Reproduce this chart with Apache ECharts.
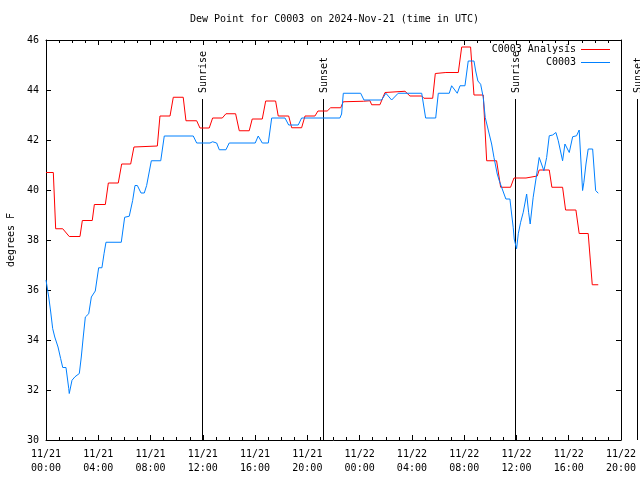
<!DOCTYPE html>
<html>
<head>
<meta charset="utf-8">
<script src="https://cdn.jsdelivr.net/npm/echarts@6/dist/echarts.min.js"></script>
<style>html,body{margin:0;padding:0;background:#fff}#chart{width:640px;height:480px}</style>
</head>
<body>
<div id="chart"></div>
<script>
// Time axis: hours since 2024-11-21 00:00 UTC
var xTickLabels = ['11/21\n00:00','11/21\n04:00','11/21\n08:00','11/21\n12:00','11/21\n16:00','11/21\n20:00',
                   '11/22\n00:00','11/22\n04:00','11/22\n08:00','11/22\n12:00','11/22\n16:00','11/22\n20:00'];
var yTickValues = [30,32,34,36,38,40,42,44,46];

// C0003 Analysis (red)
var analysisHours = [0,0.56,0.74,1.28,1.78,2.60,2.78,3.54,3.70,4.54,4.77,5.53,5.79,6.48,6.73,8.52,8.72,9.49,9.74,10.50,
  10.71,11.53,11.78,12.49,12.75,13.49,13.77,14.51,14.79,15.55,15.78,16.55,16.81,17.57,17.77,18.57,18.80,19.56,19.82,20.58,
  20.81,21.52,21.78,22.55,22.75,24.28,24.79,24.92,25.55,25.94,27.47,27.85,28.75,28.92,29.59,29.79,30.60,31.55,31.81,32.49,
  32.75,33.46,33.72,34.48,34.79,35.55,35.81,36.73,36.88,37.59,37.74,38.51,38.71,39.53,39.76,40.55,40.80,41.49,41.80,42.26];
var analysisValues = [40.7,40.7,38.45,38.45,38.14,38.14,38.78,38.78,39.42,39.42,40.28,40.28,41.04,41.04,41.72,41.76,42.96,42.96,43.71,43.71,
  42.77,42.77,42.48,42.48,42.88,42.88,43.05,43.05,42.37,42.37,42.84,42.84,43.56,43.56,42.96,42.96,42.49,42.49,42.96,42.96,
  43.16,43.16,43.29,43.29,43.53,43.55,43.57,43.41,43.41,43.9,43.95,43.76,43.76,43.67,43.67,44.66,44.7,44.7,45.72,45.72,
  43.8,43.8,41.17,41.17,40.11,40.11,40.48,40.48,40.56,40.56,40.8,40.8,40.11,40.11,39.2,39.2,38.26,38.26,36.21,36.21];

// C0003 observations (blue)
var obsHours = [0,0.21,0.36,0.51,0.67,0.92,1.12,1.28,1.53,1.74,1.78,1.99,2.22,2.55,2.70,2.85,3.01,3.27,3.47,3.77,
  4.03,4.28,4.44,4.59,5.76,6.02,6.37,6.63,6.81,6.99,7.27,7.52,7.70,8.06,8.78,9.05,11.27,11.53,12.55,12.75,
  13.06,13.26,13.77,14.02,16.01,16.24,16.55,17.01,17.27,18.29,18.57,19.30,19.56,22.49,22.62,22.75,24.08,24.33,25.68,26.01,
  26.45,26.95,28.75,29.05,29.82,30.02,30.86,31.04,31.47,31.68,32.06,32.31,32.75,32.88,33.05,33.26,33.46,33.61,34.10,34.28,
  34.53,34.68,34.79,34.94,35.19,35.50,35.63,35.75,35.83,36.01,36.14,36.32,36.52,36.78,36.93,37.05,37.28,37.59,37.74,38.10,
  38.31,38.51,38.77,39.02,39.20,39.53,39.71,40.04,40.30,40.60,40.80,41.06,41.16,41.32,41.49,41.83,42.06,42.26];
var obsValues = [36.4,35.72,35.12,34.46,34.12,33.72,33.26,32.9,32.9,32.06,31.86,32.39,32.53,32.66,33.32,34.12,34.92,35.05,35.72,35.96,
  36.89,36.89,37.45,37.91,37.91,38.91,38.95,39.58,40.18,40.18,39.88,39.88,40.18,41.17,41.17,42.16,42.16,41.88,41.88,41.93,
  41.88,41.61,41.61,41.88,41.88,42.16,41.88,41.88,42.88,42.88,42.6,42.6,42.88,42.88,43.04,43.87,43.87,43.6,43.6,43.87,
  43.6,43.87,43.87,42.88,42.88,43.87,43.87,44.17,43.87,44.17,44.17,45.16,45.16,44.76,44.36,44.23,43.7,42.9,41.84,41.3,
  40.64,40.38,40.44,40.0,39.64,39.64,39.04,38.51,38.04,37.65,38.25,38.71,39.11,39.84,39.11,38.64,39.71,40.77,41.3,40.77,
  41.3,42.17,42.2,42.3,41.97,41.17,41.84,41.5,42.13,42.17,42.4,39.98,40.31,41.04,41.64,41.64,39.98,39.87];

// Sunrise / sunset markers
var sunHours = [11.90, 21.19, 35.88, 45.22];
var sunLabels = ['Sunrise', 'Sunset', 'Sunrise', 'Sunset'];
var sunLineTop = 43.64;

var FONT = '"DejaVu Sans Mono", monospace';

function pairs(xs, ys) { return xs.map(function (x, i) { return [x, ys[i]]; }); }

var chart = echarts.init(document.getElementById('chart'), null, { renderer: 'canvas' });

var xCommon = {
  type: 'value', min: 0, max: 44, interval: 4,
  axisLine: { show: true, onZero: false, lineStyle: { color: '#000', width: 1 } },
  axisTick: { show: true, inside: true, length: 5, lineStyle: { color: '#000' } },
  minorTick: { show: true, splitNumber: 4, length: 3, lineStyle: { color: '#000' } },
  splitLine: { show: false }
};
var yCommon = {
  type: 'value', min: 30, max: 46, interval: 2,
  axisLine: { show: true, onZero: false, lineStyle: { color: '#000', width: 1 } },
  axisTick: { show: true, inside: true, length: 5, lineStyle: { color: '#000' } },
  splitLine: { show: false }
};

chart.setOption({
  animation: false,
  backgroundColor: '#fff',
  title: {
    text: 'Dew Point for C0003 on 2024-Nov-21 (time in UTC)',
    left: 190, top: 14, padding: 0,
    textStyle: { fontFamily: FONT, fontSize: 10, fontWeight: 'normal', color: '#000' }
  },
  legend: {
    orient: 'vertical', right: 30, top: 43, padding: 0, align: 'right',
    itemWidth: 29, itemHeight: 1, itemGap: 0, icon: 'rect',
    textStyle: { fontFamily: FONT, fontSize: 10, color: '#000', lineHeight: 13 },
    data: ['C0003 Analysis', 'C0003']
  },
  grid: { left: 46, right: 19, top: 40, bottom: 40, containLabel: false, outerBoundsMode: 'none' },
  xAxis: [
    Object.assign({}, xCommon, {
      position: 'bottom',
      axisLabel: {
        show: true, margin: 7, color: '#000', fontFamily: FONT, fontSize: 10, lineHeight: 14,
        formatter: function (v) { return xTickLabels[Math.round(v / 4)] || ''; }
      }
    }),
    Object.assign({}, xCommon, { position: 'top', axisLabel: { show: false } })
  ],
  yAxis: [
    Object.assign({}, yCommon, {
      position: 'left',
      name: 'degrees F', nameLocation: 'middle', nameGap: 30, nameRotate: 90,
      nameTextStyle: { fontFamily: FONT, fontSize: 10, color: '#000' },
      axisLabel: { show: true, margin: 7, color: '#000', fontFamily: FONT, fontSize: 10,
        formatter: function (v) { return yTickValues.indexOf(v) >= 0 ? String(v) : ''; } }
    }),
    Object.assign({}, yCommon, { position: 'right', axisLabel: { show: false } })
  ],
  series: [
    {
      type: 'custom', name: 'sun', clip: false, silent: true, z: 1,
      xAxisIndex: 0, yAxisIndex: 0,
      data: sunHours.map(function (h, i) { return [h, i]; }),
      renderItem: function (params, api) {
        var t = api.value(0);
        var pb = api.coord([t, 30]);
        var pt = api.coord([t, sunLineTop]);
        var x = Math.round(pb[0]) + 0.5;
        return {
          type: 'group',
          children: [
            { type: 'line', shape: { x1: x, y1: pb[1], x2: x, y2: pt[1] },
              style: { stroke: '#000', lineWidth: 1 } },
            { type: 'text', x: x + 1, y: pt[1] - 6, rotation: Math.PI / 2,
              style: { text: sunLabels[params.dataIndex], font: '10px ' + FONT, fill: '#000',
                       align: 'left', verticalAlign: 'middle' } }
          ]
        };
      }
    },
    {
      type: 'line', name: 'C0003 Analysis', data: pairs(analysisHours, analysisValues),
      showSymbol: false, symbol: 'none', z: 3,
      lineStyle: { color: '#ff0000', width: 1 }, itemStyle: { color: '#ff0000' }
    },
    {
      type: 'line', name: 'C0003', data: pairs(obsHours, obsValues),
      showSymbol: false, symbol: 'none', z: 4,
      lineStyle: { color: '#0080ff', width: 1 }, itemStyle: { color: '#0080ff' }
    }
  ]
});
</script>
</body>
</html>
